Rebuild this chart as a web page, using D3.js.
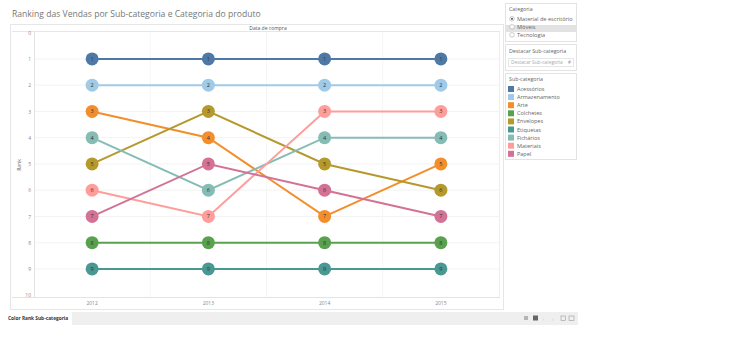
<!DOCTYPE html>
<html>
<head>
<meta charset="utf-8">
<script src="https://cdn.jsdelivr.net/npm/d3@7"></script>
<style>
  body { margin: 0; background: #fff; font-family: "Open Sans", "DejaVu Sans", sans-serif; }
</style>
</head>
<body>
<div id="chart"></div>
<script>
// data
const years = ["2012", "2013", "2014", "2015"];
const subcategories = ["Acessórios", "Armazenamento", "Arte", "Colchetes", "Envelopes", "Etiquetas", "Fichários", "Materiais", "Papel"];
const colors = ["#4e79a7", "#a0cbe8", "#f28e2b", "#59a14f", "#b6992d", "#499894", "#86bcb6", "#ff9d9a", "#d37295"];
const ranks = {
  "Acessórios":    [1, 1, 1, 1],
  "Armazenamento": [2, 2, 2, 2],
  "Arte":          [3, 4, 7, 5],
  "Colchetes":     [8, 8, 8, 8],
  "Envelopes":     [5, 3, 5, 6],
  "Etiquetas":     [9, 9, 9, 9],
  "Fichários":     [4, 6, 4, 4],
  "Materiais":     [6, 7, 3, 3],
  "Papel":         [7, 5, 6, 7]
};
const rankTicks = d3.range(0, 11);
const categoryOptions = ["Material de escritório", "Móveis", "Tecnologia"];

const width = 730, height = 352;
const svg = d3.select("#chart").append("svg")
  .attr("width", width)
  .attr("height", height);

const color = d3.scaleOrdinal().domain(subcategories).range(colors);

const x = d3.scaleBand().domain(years).range([34, 499]);
const y = d3.scaleLinear().domain([0, 10]).range([32.7, 295.2]);

// title
svg.append("text")
  .attr("x", 12).attr("y", 17)
  .style("font-size", "8.6px").style("fill", "#777")
  .text("Ranking das Vendas por Sub-categoria e Categoria do produto");

// outer frame of the view
svg.append("rect")
  .attr("x", 10.5).attr("y", 24.5).attr("width", 493).attr("height", 285)
  .attr("fill", "none").attr("stroke", "#e6e6e6");

svg.append("line")
  .attr("x1", 12).attr("x2", 500).attr("y1", 31.5).attr("y2", 31.5)
  .attr("stroke", "#e6e6e6");

svg.append("text")
  .attr("x", 268).attr("y", 29.5)
  .attr("text-anchor", "middle")
  .style("font-size", "5px").style("fill", "#555")
  .text("Data de compra");

// gridlines
const grid = svg.append("g");
grid.selectAll("line")
  .data(rankTicks.slice(1, 10))
  .join("line")
    .attr("x1", 34).attr("x2", 499)
    .attr("y1", d => y(d)).attr("y2", d => y(d))
    .attr("stroke", "#f3f3f3");

// band separators
grid.selectAll(".sep")
  .data(years.slice(1))
  .join("line")
    .attr("class", "sep")
    .attr("x1", d => x(d)).attr("x2", d => x(d))
    .attr("y1", 32).attr("y2", 297)
    .attr("stroke", "#f6f6f6");

svg.append("line")
  .attr("x1", 34.5).attr("x2", 34.5).attr("y1", 32).attr("y2", 297)
  .attr("stroke", "#e3e3e3");
svg.append("line")
  .attr("x1", 12).attr("x2", 500).attr("y1", 297.5).attr("y2", 297.5)
  .attr("stroke", "#e3e3e3");
svg.append("line")
  .attr("x1", 499.5).attr("x2", 499.5).attr("y1", 32).attr("y2", 297)
  .attr("stroke", "#eeeeee");

// y axis
const yAxis = svg.append("g")
  .attr("transform", "translate(33,0)")
  .call(d3.axisLeft(y).tickValues(rankTicks).tickSize(0).tickPadding(2));
yAxis.select(".domain").remove();
yAxis.selectAll("text").style("font-size", "5px").style("fill", "#888").attr("font-family", "Open Sans");

svg.append("text")
  .attr("transform", "translate(21,165) rotate(-90)")
  .attr("text-anchor", "middle")
  .style("font-size", "5px").style("fill", "#555")
  .text("Rank");

// x axis
const xAxis = svg.append("g")
  .attr("transform", "translate(0,299)")
  .call(d3.axisBottom(x).tickSize(0).tickPadding(2));
xAxis.select(".domain").remove();
xAxis.selectAll("text").style("font-size", "5px").style("fill", "#888").attr("font-family", "Open Sans");

// lines
const cx = d => x(d) + x.bandwidth() / 2;
const line = d3.line()
  .x((d, i) => cx(years[i]))
  .y(d => y(d));

svg.append("g").selectAll("path")
  .data(subcategories)
  .join("path")
    .attr("d", d => line(ranks[d]))
    .attr("fill", "none")
    .attr("stroke", d => color(d))
    .attr("stroke-width", 2);

// points
const pts = [];
subcategories.forEach(s => ranks[s].forEach((r, i) => pts.push({s: s, year: years[i], r: r})));

const marks = svg.append("g").selectAll("g")
  .data(pts)
  .join("g")
    .attr("transform", d => `translate(${cx(d.year)},${y(d.r)})`);
marks.append("circle")
  .attr("r", 6.5)
  .attr("fill", d => color(d.s));
marks.append("text")
  .attr("text-anchor", "middle")
  .attr("dy", "0.35em")
  .style("font-size", "5.5px")
  .style("fill", "#333")
  .text(d => d.r);

// right panels
const panel = svg.append("g");
panel.append("rect")
  .attr("x", 505.5).attr("y", 3.5).attr("width", 71).attr("height", 38)
  .attr("fill", "#fff").attr("stroke", "#e3e3e3");
panel.append("text").attr("x", 509).attr("y", 11)
  .style("font-size", "5.3px").style("fill", "#666").text("Categoria");
panel.append("rect")
  .attr("x", 506).attr("y", 25).attr("width", 70).attr("height", 7)
  .attr("fill", "#e2e2e2");
categoryOptions.forEach((c, i) => {
  const yy = 20.5 + i * 8;
  panel.append("circle").attr("cx", 512).attr("cy", yy - 1.7).attr("r", 2.3)
    .attr("fill", "#fff").attr("stroke", "#999").attr("stroke-width", 0.5);
  if (i === 0) panel.append("circle").attr("cx", 512).attr("cy", yy - 1.7).attr("r", 1.1).attr("fill", "#666");
  panel.append("text").attr("x", 517).attr("y", yy)
    .style("font-size", "5.6px").style("fill", "#666").text(c);
});

panel.append("rect")
  .attr("x", 505.5).attr("y", 44.5).attr("width", 71).attr("height", 26)
  .attr("fill", "#fff").attr("stroke", "#e3e3e3");
panel.append("text").attr("x", 509).attr("y", 53)
  .style("font-size", "5.3px").style("fill", "#666").text("Destacar Sub-categoria");
panel.append("rect")
  .attr("x", 508.5).attr("y", 58.5).attr("width", 65).attr("height", 8)
  .attr("fill", "#fff").attr("stroke", "#e6e6e6");
panel.append("text").attr("x", 511).attr("y", 64)
  .style("font-size", "4.8px").style("fill", "#aaa").text("Destacar Sub-categoria");
panel.append("text").attr("x", 568).attr("y", 64)
  .style("font-size", "4.5px").style("fill", "#999").text("#");

panel.append("rect")
  .attr("x", 505.5).attr("y", 73.5).attr("width", 71).attr("height", 86)
  .attr("fill", "#fff").attr("stroke", "#e3e3e3");
panel.append("text").attr("x", 509).attr("y", 81)
  .style("font-size", "5.3px").style("fill", "#666").text("Sub-categoria");
const leg = panel.selectAll(".leg")
  .data(subcategories)
  .join("g")
    .attr("class", "leg")
    .attr("transform", (d, i) => `translate(508,${86 + i * 8.1})`);
leg.append("rect").attr("width", 6).attr("height", 6).attr("fill", d => color(d));
leg.append("text").attr("x", 9).attr("y", 5)
  .style("font-size", "5.5px").style("fill", "#666").text(d => d);

// bottom tab bar
svg.append("text").attr("x", 8).attr("y", 320)
  .style("font-size", "4.8px").style("fill", "#333").style("font-weight", "bold")
  .text("Color Rank Sub-categoria");
svg.append("rect")
  .attr("x", 72).attr("y", 312).attr("width", 506).attr("height", 13)
  .attr("fill", "#efefef");
const icons = svg.append("g").attr("fill", "#9a9a9a");
icons.append("rect").attr("x", 524).attr("y", 316).attr("width", 4).attr("height", 4).attr("fill", "#b5b5b5");
icons.append("rect").attr("x", 533).attr("y", 315.5).attr("width", 5).attr("height", 5).attr("fill", "#666");
icons.append("text").attr("x", 543).attr("y", 320.5).style("font-size", "5px").attr("fill", "#bbb").text("‹");
icons.append("text").attr("x", 552).attr("y", 320.5).style("font-size", "5px").attr("fill", "#bbb").text("›");
icons.append("rect").attr("x", 561).attr("y", 316).attr("width", 4.5).attr("height", 4.5).attr("fill", "none").attr("stroke", "#999").attr("stroke-width", 0.6);
icons.append("rect").attr("x", 569).attr("y", 316).attr("width", 5).attr("height", 4.5).attr("fill", "none").attr("stroke", "#999").attr("stroke-width", 0.6);
</script>
</body>
</html>
